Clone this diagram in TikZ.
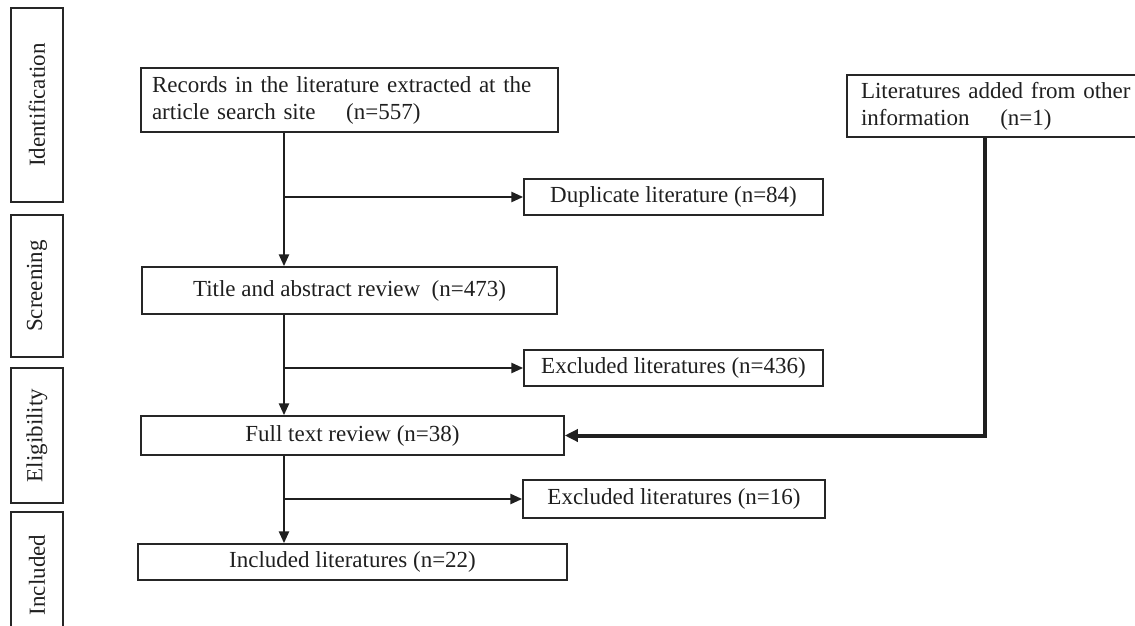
\documentclass[tikz,border=0pt]{standalone}
\usepackage{fontspec}
\setmainfont{Liberation Serif}
\usetikzlibrary{arrows.meta}
\begin{document}
\begin{tikzpicture}[x=1pt,y=-1pt,
  every node/.style={font=\fontsize{23}{27}\selectfont, inner sep=0pt, text=black!88},
  flowbox/.style={draw=black!85, line width=1.5pt},
  phase/.style={draw=black!85, line width=1.7pt, rotate=90, minimum height=52pt},
  arr/.style={draw=black!88, line width=2.6pt, -{Triangle[length=12pt,width=10pt]}},
  feed/.style={draw=black!88, line width=4pt, -{Triangle[length=13pt,width=12pt]}}]
\useasboundingbox (0,0) rectangle (1135,626);

% phase labels on the left
\node[phase, minimum width=194pt] (pid) at (37,105) {Identification};
\node[phase, minimum width=142pt] (psc) at (37,286) {Screening};
\node[phase, minimum width=135pt] (pel) at (37,435.5) {Eligibility};
\node[phase, minimum width=126pt] (pin) at (37,575) {Included};

% main column
\node[flowbox, minimum width=417pt, minimum height=64pt, text width=395pt, align=left]
  (rec) at (349.5,100) {Records in the literature extracted at the\\article search site\ \ \ \ (n=557)};
\node[flowbox, minimum width=415pt, minimum height=47pt] (tit) at (349.5,290.5) {Title and abstract review\ \ (n=473)};
\node[flowbox, minimum width=423pt, minimum height=39pt] (ful) at (352.5,435.5) {Full text review (n=38)};
\node[flowbox, minimum width=429pt, minimum height=36pt] (inc) at (352.5,562) {Included literatures (n=22)};

% exclusion boxes
\node[flowbox, minimum width=299pt, minimum height=36pt] (dup) at (673.5,197) {Duplicate literature (n=84)};
\node[flowbox, minimum width=299pt, minimum height=36pt] (ex1) at (673.5,368) {Excluded literatures (n=436)};
\node[flowbox, minimum width=302pt, minimum height=38pt] (ex2) at (674,499) {Excluded literatures (n=16)};

% other sources
\node[flowbox, minimum width=298pt, minimum height=62pt, text width=270pt, align=left]
  (oth) at (996,106) {Literatures added from other\\information\ \ \ \ (n=1)};

% connectors
\coordinate (sp) at (284,0);
\coordinate (ov) at (985,0);
\draw[arr] (rec.south -| sp) -- (tit.north -| sp);
\draw[arr] (sp |- dup.west) -- (dup.west);
\draw[arr] (tit.south -| sp) -- (ful.north -| sp);
\draw[arr] (sp |- ex1.west) -- (ex1.west);
\draw[arr] (ful.south -| sp) -- (inc.north -| sp);
\draw[arr] (sp |- ex2.west) -- (ex2.west);
\draw[feed] (oth.south -| ov) |- (ful.east);
\end{tikzpicture}
\end{document}
